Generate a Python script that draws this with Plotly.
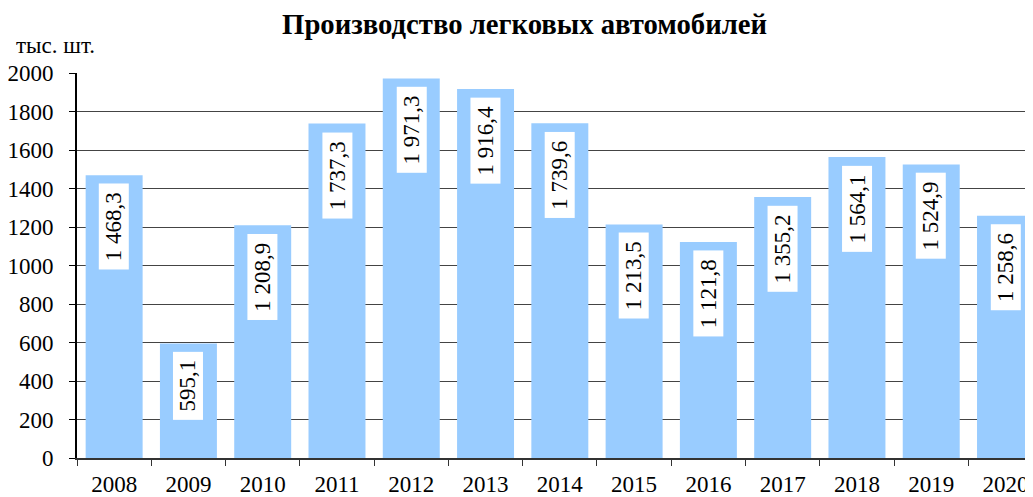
import plotly.graph_objects as go

years = ["2008", "2009", "2010", "2011", "2012", "2013", "2014",
         "2015", "2016", "2017", "2018", "2019", "2020"]
production = [1468.3, 595.1, 1208.9, 1737.3, 1971.3, 1916.4, 1739.6,
              1213.5, 1121.8, 1355.2, 1564.1, 1524.9, 1258.6]
y_ticks = [0, 200, 400, 600, 800, 1000, 1200, 1400, 1600, 1800, 2000]


def fmt(v):
    s = f"{v:,.1f}"
    return s.replace(",", " ").replace(".", ",")


FONT = "Liberation Serif"
BAR = "#99CCFF"

fig = go.Figure()
fig.add_trace(go.Bar(x=years, y=production, marker=dict(color=BAR, line=dict(width=0)),
                     hoverinfo="x+y"))

for i, (yr, v) in enumerate(zip(years, production)):
    fig.add_annotation(x=i, y=v, xref="x", yref="y",
                       text="&nbsp;" + fmt(v) + "&nbsp;", textangle=-90,
                       showarrow=False, yanchor="top", xanchor="center", yshift=-8,
                       bgcolor="white", borderpad=2,
                       font=dict(family=FONT, size=23, color="black"))

fig.add_annotation(text="тыс. шт.", xref="paper", yref="paper", x=-0.066, y=1.072,
                   xanchor="left", yanchor="middle", showarrow=False,
                   font=dict(family=FONT, size=23, color="black"))

fig.update_layout(
    width=1025, height=489,
    margin=dict(l=69, r=0, t=65, b=39, autoexpand=False),
    paper_bgcolor="white", plot_bgcolor="white",
    bargap=0.233,
    showlegend=False,
    title=dict(text="<b>Производство легковых автомобилей</b>", x=0.504, xanchor="center",
               y=0.967, yanchor="middle",
               font=dict(family=FONT, size=28.7, color="black")),
    font=dict(family=FONT, size=23, color="black"),
)
fig.update_xaxes(type="category", range=[-0.5, 12.37], showline=True, linecolor="#333",
                 linewidth=2, ticks="outside", ticklen=6, tickcolor="#333",
                 tickson="boundaries", showgrid=False, automargin=False,
                 ticklabelstandoff=4,
                 tickfont=dict(family=FONT, size=23, color="black"))
fig.update_yaxes(range=[0, 2000], tickvals=y_ticks, showline=True, linecolor="black",
                 linewidth=2, ticks="outside", ticklen=6, tickcolor="black",
                 showgrid=True, gridcolor="#444", gridwidth=1, zeroline=False,
                 ticklabelstandoff=11, automargin=False,
                 tickfont=dict(family=FONT, size=23, color="black"))

fig.write_html("out.html")
